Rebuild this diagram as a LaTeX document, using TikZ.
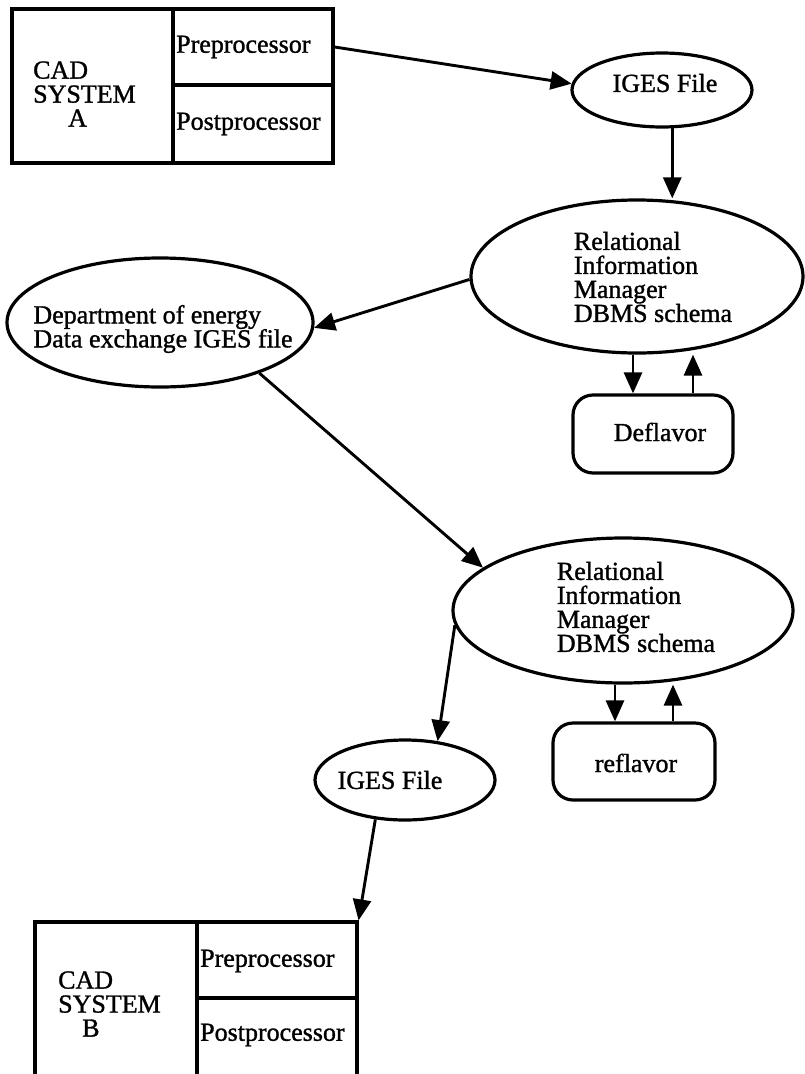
\documentclass[tikz,border=0pt]{standalone}
\usepackage{fontspec}
\setmainfont{Liberation Serif}[FakeBold=1.2]
\usetikzlibrary{arrows.meta,shapes.geometric}
\begin{document}
\begin{tikzpicture}[x=1pt,y=-1pt,
  outline/.style={draw=black, line width=3.2pt},
  oval/.style={outline, ellipse, inner sep=0pt},
  cell/.style={outline, rectangle, inner sep=0pt},
  roundbox/.style={outline, rectangle, rounded corners=20pt, inner sep=0pt},
  lbl/.style={font=\fontsize{26}{24}\selectfont, inner sep=0pt, align=left},
  flow/.style={line width=2.9pt, -{Triangle[length=21pt,width=18pt]}},
]
\useasboundingbox (0,0) rectangle (804,1074);

% CAD system A
\node[cell, minimum width=161pt, minimum height=154pt] (cadA) at (92.5,86) {};
\node[cell, minimum width=160pt, minimum height=76pt] (preA) at (253,47) {};
\node[cell, minimum width=160pt, minimum height=78pt] (postA) at (253,124) {};
\node[lbl, anchor=west] (cadAt) at (33,94) {CAD\\SYSTEM\\\hspace*{35pt}A};
\node[lbl, anchor=west] (preAt) at (176,47) {Preprocessor};
\node[lbl, anchor=west] (postAt) at (176,124) {Postprocessor};

% IGES file written by system A
\node[oval, minimum width=180pt, minimum height=74pt] (ig1) at (662,90) {};
\node[lbl] (ig1t) at (665,83) {IGES File};

% Relational Information Manager with the deflavor step
\node[oval, minimum width=332pt, minimum height=153pt] (rim1) at (637,276.5) {};
\node[lbl] (rim1t) at (653,277) {Relational\\Information\\Manager\\DBMS schema};
\node[roundbox, minimum width=160pt, minimum height=78pt] (defl) at (653,434) {};
\node[lbl] (deflt) at (660,432) {Deflavor};

% Neutral exchange file
\node[oval, minimum width=306pt, minimum height=129pt] (doe) at (160,322.5) {};
\node[lbl] (doet) at (163,329) {Department of energy\\Data exchange IGES file};

% Relational Information Manager with the reflavor step
\node[oval, minimum width=340pt, minimum height=145pt] (rim2) at (623,610.5) {};
\node[lbl] (rim2t) at (636,607) {Relational\\Information\\Manager\\DBMS schema};
\node[roundbox, minimum width=162pt, minimum height=77pt] (refl) at (634,761.5) {};
\node[lbl] (reflt) at (636,763) {reflavor};

% IGES file read by system B
\node[oval, minimum width=180pt, minimum height=80pt] (ig2) at (405,780) {};
\node[lbl] (ig2t) at (390,780) {IGES File};

% CAD system B
\node[cell, minimum width=162pt, minimum height=154pt] (cadB) at (116,999) {};
\node[cell, minimum width=160pt, minimum height=76pt] (preB) at (277,960) {};
\node[cell, minimum width=160pt, minimum height=78pt] (postB) at (277,1037) {};
\node[lbl, anchor=west] (cadBt) at (58,1004) {CAD\\SYSTEM\\\hspace*{24pt}B};
\node[lbl, anchor=west] (preBt) at (200,961) {Preprocessor};
\node[lbl, anchor=west] (postBt) at (200,1035) {Postprocessor};

% column positions of the vertical arrow pairs
\coordinate (d1) at (633,0);
\coordinate (u1) at (693,0);
\coordinate (d2) at (615,0);
\coordinate (u2) at (673,0);

% data flow
\draw[flow] (preA.east) -- (ig1.176);
\draw[flow] (ig1.-75) -- (ig1.-75 |- rim1.north);
\draw[flow] (rim1.south -| d1) -- (defl.north -| d1);
\draw[flow] (defl.north -| u1) -- (rim1.south -| u1);
\draw[flow] (rim1.181) -- (doe.-2);
\draw[flow] (doe.-27) -- (rim2.163);
\draw[flow] (rim2.south -| d2) -- (refl.north -| d2);
\draw[flow] (refl.north -| u2) -- (rim2.south -| u2);
\draw[flow] (rim2.185) -- (ig2.50);
\draw[flow] (ig2.233) -- (preB.north east);
\end{tikzpicture}
\end{document}
